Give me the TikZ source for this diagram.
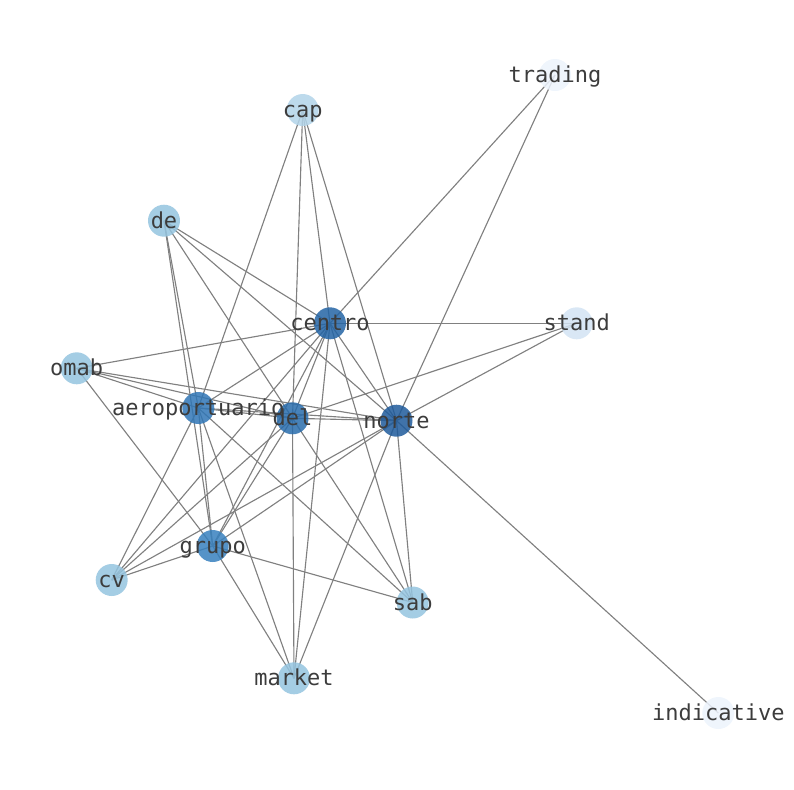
\documentclass[tikz,border=0pt]{standalone}
\usepackage{fontspec}
\setmonofont{DejaVu Sans Mono}
\usetikzlibrary{backgrounds}
\pgfdeclarelayer{fg}
\pgfsetlayers{background,main,fg}
\definecolor{lblc}{RGB}{60,60,60}
\definecolor{edgec}{RGB}{128,128,128}
\definecolor{cNorte}{RGB}{30,90,155}
\definecolor{cCentro}{RGB}{35,100,165}
\definecolor{cDel}{RGB}{40,108,172}
\definecolor{cAero}{RGB}{48,118,182}
\definecolor{cGrupo}{RGB}{55,128,190}
\definecolor{cFive}{RGB}{148,196,223}
\definecolor{cCap}{RGB}{178,212,233}
\definecolor{cStand}{RGB}{210,227,243}
\definecolor{cTrading}{RGB}{236,243,252}
\begin{document}
\begin{tikzpicture}[x=0.75pt,y=-0.75pt,
  vert/.style={circle,minimum size=24pt,inner sep=0pt,fill opacity=0.85,draw=none},
  lbl/.style={font=\ttfamily\fontsize{16.5}{18}\selectfont,text=lblc,inner sep=0pt,text height=0.74em,text depth=0pt,yshift=-2pt},
  edge/.style={draw=edgec,line width=0.85pt}]
\useasboundingbox (0,0) rectangle (794,790);
\node[vert,fill=cTrading] (trading) at (555,75) {};
\node[vert,fill=cCap] (cap) at (302.7,110) {};
\node[vert,fill=cFive] (de) at (164,220.7) {};
\node[vert,fill=cCentro] (centro) at (330,323.3) {};
\node[vert,fill=cStand] (stand) at (576.7,323.3) {};
\node[vert,fill=cFive] (omab) at (76.7,368.3) {};
\node[vert,fill=cAero] (aeroportuario) at (198.3,408) {};
\node[vert,fill=cDel] (del) at (292.5,418.3) {};
\node[vert,fill=cNorte] (norte) at (396.5,420.7) {};
\node[vert,fill=cGrupo] (grupo) at (212.7,546) {};
\node[vert,fill=cFive] (cv) at (111.7,580) {};
\node[vert,fill=cFive] (sab) at (412.7,602.5) {};
\node[vert,fill=cFive] (market) at (294,678.3) {};
\node[vert,fill=cTrading] (indicative) at (718.3,713) {};
\begin{pgfonlayer}{background}
\foreach \a/\b in {trading/centro,trading/norte,
  cap/aeroportuario,cap/del,cap/centro,cap/norte,
  de/centro,de/norte,de/del,de/grupo,de/aeroportuario,
  stand/centro,stand/del,stand/norte,
  omab/centro,omab/aeroportuario,omab/del,omab/norte,omab/grupo,
  centro/aeroportuario,centro/del,centro/norte,centro/grupo,centro/cv,centro/market,centro/sab,
  aeroportuario/del,aeroportuario/norte,aeroportuario/grupo,aeroportuario/cv,aeroportuario/market,aeroportuario/sab,
  del/norte,del/grupo,del/cv,del/market,del/sab,
  norte/grupo,norte/cv,norte/market,norte/sab,norte/indicative,
  grupo/cv,grupo/sab,grupo/market}
  \draw[edge] (\a.center) -- (\b.center);
\end{pgfonlayer}
\begin{pgfonlayer}{fg}
\foreach \n in {trading,cap,de,centro,stand,omab,aeroportuario,del,norte,grupo,cv,sab,market,indicative}
  \node[lbl] (\n-l) at (\n.center) {\n};
\end{pgfonlayer}
\end{tikzpicture}
\end{document}
